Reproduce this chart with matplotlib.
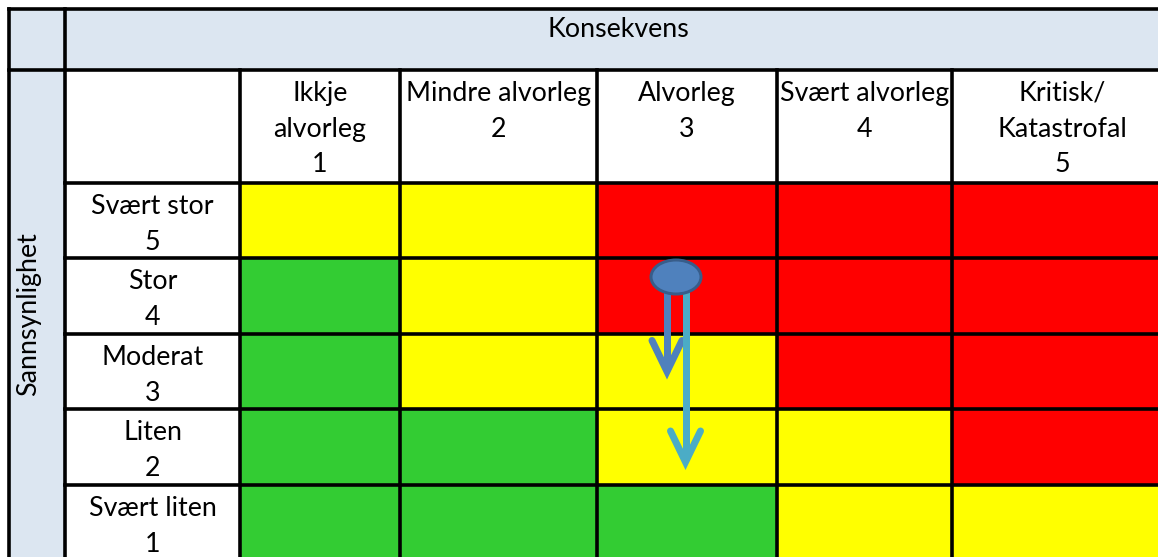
import matplotlib
matplotlib.use("Agg")
import matplotlib.pyplot as plt
from matplotlib.patches import Rectangle, Ellipse

# risk matrix content
konsekvens = ["Ikkje\nalvorleg\n1", "Mindre alvorleg\n2", "Alvorleg\n3",
              "Svært alvorleg\n4", "Kritisk/\nKatastrofal\n5"]
sannsyn = ["Svært stor\n5", "Stor\n4", "Moderat\n3", "Liten\n2", "Svært liten\n1"]
# 1 = low (green), 2 = medium (yellow), 3 = high (red); rows from "Svært stor" down
risk = [[2, 2, 3, 3, 3],
        [1, 2, 3, 3, 3],
        [1, 2, 2, 3, 3],
        [1, 1, 2, 2, 3],
        [1, 1, 1, 2, 2]]
# movement of the risk: start (row, col) and the two end rows
start_cell = (1, 2)
end_rows = [2, 3]

colors = {1: "#33CC33", 2: "#FFFF00", 3: "#FF0000"}
header_bg = "#DCE6F1"

# layout in pixels
col_x = [9, 65, 240, 400, 597, 777, 952, 1172]
row_y = [9, 70, 183, 258, 334, 409, 485, 561]
W, H = 1158, 557
lw = 3.6 * 72 / 100

plt.rcParams['font.family'] = ['Lato', 'DejaVu Sans']
fig = plt.figure(figsize=(W / 100, H / 100), dpi=100)
ax = fig.add_axes([0, 0, 1, 1])
ax.set_xlim(0, W)
ax.set_ylim(H, 0)
ax.axis("off")

# light blue header areas
ax.add_patch(Rectangle((col_x[0], row_y[0]), col_x[-1] - col_x[0], row_y[1] - row_y[0],
                       facecolor=header_bg, edgecolor="none"))
ax.add_patch(Rectangle((col_x[0], row_y[1]), col_x[1] - col_x[0], row_y[-1] - row_y[1],
                       facecolor=header_bg, edgecolor="none"))

# coloured cells
for i, row in enumerate(risk):
    for j, v in enumerate(row):
        x0, x1 = col_x[j + 2], col_x[j + 3]
        y0, y1 = row_y[i + 2], row_y[i + 3]
        ax.add_patch(Rectangle((x0, y0), x1 - x0, y1 - y0, facecolor=colors[v], edgecolor="none"))

# grid lines
ax.plot([col_x[0], col_x[-1]], [row_y[0], row_y[0]], color="black", lw=lw, solid_capstyle="projecting")
ax.plot([col_x[0], col_x[-1]], [row_y[1], row_y[1]], color="black", lw=lw, solid_capstyle="projecting")
for y in row_y[2:-1]:
    ax.plot([col_x[1], col_x[-1]], [y, y], color="black", lw=lw, solid_capstyle="projecting")
ax.plot([col_x[0], col_x[0]], [row_y[0], row_y[-1]], color="black", lw=lw, solid_capstyle="projecting")
ax.plot([col_x[1], col_x[1]], [row_y[0], row_y[-1]], color="black", lw=lw, solid_capstyle="projecting")
for x in col_x[2:-1]:
    ax.plot([x, x], [row_y[1], row_y[-1]], color="black", lw=lw, solid_capstyle="projecting")

fs = 19.3
ax.text((col_x[1] + col_x[-1]) / 2, 37, "Konsekvens", ha="center", va="baseline", fontsize=fs)
ax.text(29, 314, "Sannsynlighet", ha="center", va="center", rotation=90, fontsize=fs)

for j, lab in enumerate(konsekvens):
    ax.text((col_x[j + 2] + col_x[j + 3]) / 2, row_y[1] + 11, lab, ha="center", va="top",
            multialignment="center", fontsize=fs, linespacing=1.53)
for i, lab in enumerate(sannsyn):
    ax.text((col_x[1] + col_x[2]) / 2, row_y[i + 2] + 11, lab, ha="center", va="top",
            multialignment="center", fontsize=fs, linespacing=1.53)

# arrows showing the risk reduction
r0, c0 = start_cell
cx = (col_x[c0 + 2] + col_x[c0 + 3]) / 2
cy = (row_y[r0 + 2] + row_y[r0 + 3]) / 2
arrow_cols = ["#4F81BD", "#4BACC6"]
arrow_dx = [-20, -1.5]
tip_dy = [0, 15]
alw = 7 * 72 / 100
for k, er in enumerate(end_rows):
    ty = (row_y[er + 2] + row_y[er + 3]) / 2 + tip_dy[k]
    ax_x = cx + arrow_dx[k]
    ax.plot([ax_x, ax_x], [cy - 5, ty - 3], color=arrow_cols[k], lw=alw, solid_capstyle="butt")
    ax.plot([ax_x - 15, ax_x, ax_x + 15], [ty - 31, ty, ty - 31], color=arrow_cols[k], lw=alw,
            solid_capstyle="round", solid_joinstyle="miter")

ax.add_patch(Ellipse((cx - 11, cy - 19), 50, 34, facecolor="#4F81BD", edgecolor="#385D8A",
                     lw=3 * 72 / 100, zorder=5))

fig.savefig("out.png", dpi=100)
